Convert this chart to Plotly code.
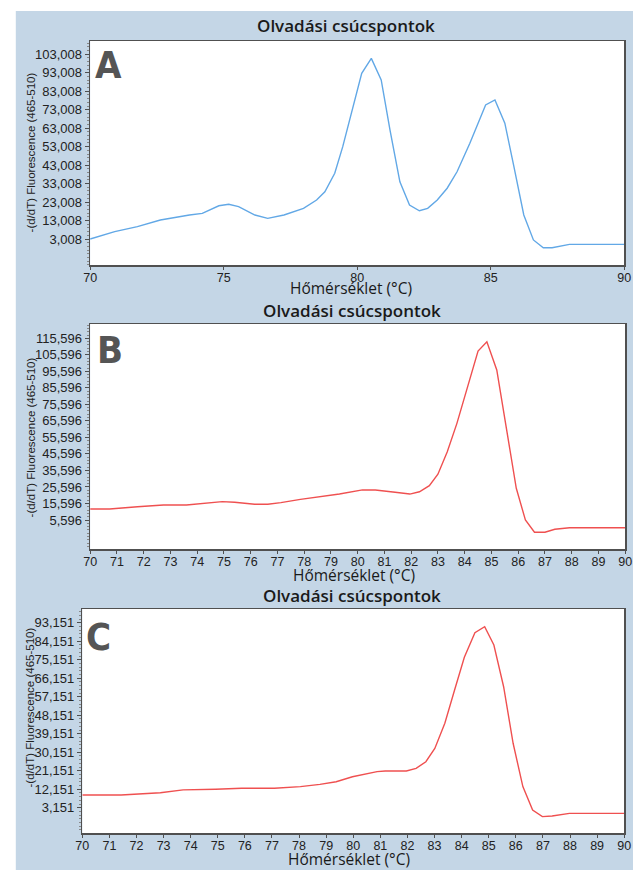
import plotly.graph_objects as go

# ---------------- data ----------------
temps_a = [70.0, 70.92, 71.77, 72.63, 73.72, 74.2, 74.82, 75.19, 75.56, 76.17, 76.65, 77.26,
           77.99, 78.48, 78.79, 79.16, 79.46, 79.83, 80.17, 80.53, 80.9, 81.23, 81.6, 81.96,
           82.33, 82.64, 83.0, 83.37, 83.74, 84.22, 84.81, 85.16, 85.53, 85.87, 86.24, 86.6,
           86.97, 87.3, 87.95, 90.0]
vals_a = [3000, 7000, 9700, 13300, 16000, 16900, 21000, 21800, 20500, 16000, 14200, 16000,
          19600, 24100, 28600, 38600, 53000, 72900, 92700, 100800, 89100, 62000, 34000, 21400,
          18300, 19600, 24100, 30500, 39400, 54800, 75600, 78300, 65700, 42200, 16000, 2500,
          -1700, -1700, 100, 100]

temps_b = [70.0, 70.73, 71.77, 72.74, 73.6, 74.2, 74.94, 75.4, 76.15, 76.64, 77.13, 77.86,
           78.59, 79.32, 80.18, 80.66, 81.4, 81.95, 82.31, 82.68, 83.0, 83.35, 83.71, 84.08,
           84.5, 84.83, 85.2, 85.56, 85.93, 86.27, 86.61, 87.0, 87.37, 87.92, 90.0]
vals_b = [12300, 12300, 13600, 14700, 14700, 15700, 16700, 16300, 15100, 15100, 16100, 18100,
          19700, 21300, 23800, 23800, 22400, 21300, 22700, 26400, 33300, 46900, 64100, 85300,
          107900, 113500, 96400, 61100, 24800, 5600, -1800, -1800, 0, 900, 900]

temps_c = [70.0, 71.43, 72.88, 73.72, 74.92, 75.88, 77.09, 78.05, 78.77, 79.37, 79.97, 80.88,
           81.18, 81.96, 82.32, 82.68, 83.01, 83.38, 83.74, 84.1, 84.49, 84.85, 85.19, 85.55,
           85.9, 86.26, 86.62, 86.98, 87.34, 87.98, 90.0]
vals_c = [9300, 9300, 10400, 11800, 12100, 12600, 12600, 13400, 14500, 15800, 18200, 20700,
          21000, 21000, 22300, 25500, 32000, 44200, 60400, 76300, 88300, 91200, 82300, 62000,
          34500, 13400, 2000, -1200, -900, 400, 400]

yticks_a = [3008 + 10000 * k for k in range(11)]
yticks_b = [5596 + 10000 * k for k in range(12)]
yticks_c = [3151 + 9000 * k for k in range(11)]

panel_letters = ["A", "B", "C"]
chart_title = "Olvadási csúcspontok"
x_title = "Hőmérséklet (°C)"
y_title = "-(d/dT) Fluorescence (465-510)"

# ---------------- layout helpers ----------------
W, H = 640, 870
BG = "#c4d6e6"
FRAME = "#505050"
BLUE = "#62a8e6"
RED = "#ef5050"
YTICKFONT = dict(family="Liberation Sans, Arial, sans-serif", size=13, color="#222")
XTICKFONT = dict(family="Liberation Sans, Arial, sans-serif", size=12.5, color="#222")
TITLEFONT = dict(family="Open Sans, Noto Sans, sans-serif", size=17, color="#1a1a1a", weight=600)
XTFONT = dict(family="Open Sans, Noto Sans, sans-serif", size=15.5, color="#1a1a1a", weight=500)
YTFONT = dict(family="Liberation Sans, Arial, sans-serif", size=11.5, color="#222")
LETTERFONT = dict(family="Liberation Sans Narrow, DejaVu Sans Condensed, Arial Narrow, sans-serif",
                  size=38, color="#555555", weight=700)


def px_x(p):
    return p / W


def px_y(p):
    return 1 - p / H


panels = [
    dict(x=temps_a, y=vals_a, color=BLUE, xd=(85, 631), yd=(41, 265),
         yr=(-11069, 110208), yt=yticks_a, mdt=2000, xdt=5,
         title=(347, 25), xt=(352, 288), ytp=(25, 152), letter=(104, 65)),
    dict(x=temps_b, y=vals_b, color=RED, xd=(85, 632), yd=(324, 549),
         yr=(-11960, 124253), yt=yticks_b, mdt=2000, xdt=1,
         title=(353, 310), xt=(355, 575), ytp=(25, 437), letter=(105, 350)),
    dict(x=temps_c, y=vals_c, color=RED, xd=(77, 631), yd=(609, 833),
         yr=(-9157, 99816), yt=yticks_c, mdt=1800, xdt=1,
         title=(353, 595), xt=(350, 859), ytp=(24, 707), letter=(94, 637)),
]

fig = go.Figure()
shapes = [dict(type="rect", xref="paper", yref="paper", x0=px_x(9), x1=1.0,
               y0=0.0, y1=px_y(11), fillcolor=BG, line=dict(width=0), layer="below")]
annotations = []
layout_axes = {}

for i, p in enumerate(panels):
    n = "" if i == 0 else str(i + 1)
    xa, ya = "x" + n, "y" + n
    fig.add_trace(go.Scatter(x=p["x"], y=p["y"], mode="lines", xaxis=xa, yaxis=ya,
                             line=dict(color=p["color"], width=1.4), showlegend=False,
                             hoverinfo="skip"))
    shapes.append(dict(type="rect", xref="paper", yref="paper",
                       x0=px_x(p["xd"][0]), x1=px_x(p["xd"][1]),
                       y0=px_y(p["yd"][1]), y1=px_y(p["yd"][0]),
                       fillcolor="white", line=dict(width=0), layer="below"))
    layout_axes["xaxis" + n] = dict(
        domain=[px_x(p["xd"][0]), px_x(p["xd"][1])], anchor=ya, range=[70, 90],
        tick0=70, dtick=p["xdt"], ticks="outside", ticklen=3, tickcolor=FRAME,
        ticklabelstandoff=-3,
        showline=True, linecolor=FRAME, linewidth=1.5, mirror=True, showgrid=False,
        zeroline=False, tickfont=XTICKFONT, fixedrange=True)
    layout_axes["yaxis" + n] = dict(
        domain=[px_y(p["yd"][1]), px_y(p["yd"][0])], anchor=xa, range=list(p["yr"]),
        tickvals=p["yt"], tickformat=",", ticks="outside", ticklen=4, tickcolor=FRAME,
        minor=dict(ticks="outside", ticklen=2, tickcolor="#888", tick0=p["yt"][0],
                   dtick=p["mdt"]),
        showline=True, linecolor=FRAME, linewidth=1.5, mirror=True, showgrid=False,
        zeroline=False, tickfont=YTICKFONT, fixedrange=True)
    annotations += [
        dict(text=chart_title, x=px_x(p["title"][0]), y=px_y(p["title"][1]),
             xref="paper", yref="paper", showarrow=False, xanchor="center",
             yanchor="middle", font=TITLEFONT),
        dict(text=x_title, x=px_x(p["xt"][0]), y=px_y(p["xt"][1]),
             xref="paper", yref="paper", showarrow=False, xanchor="center",
             yanchor="middle", font=XTFONT),
        dict(text=y_title, x=px_x(p["ytp"][0]), y=px_y(p["ytp"][1]),
             xref="paper", yref="paper", showarrow=False, xanchor="center",
             yanchor="middle", textangle=-90, font=YTFONT),
        dict(text=panel_letters[i], x=px_x(p["letter"][0]), y=px_y(p["letter"][1]),
             xref="paper", yref="paper", showarrow=False, xanchor="center",
             yanchor="middle", font=LETTERFONT),
    ]

fig.update_layout(
    width=W, height=H, margin=dict(l=0, r=0, t=0, b=0),
    paper_bgcolor="white", plot_bgcolor="rgba(0,0,0,0)",
    shapes=shapes, annotations=annotations, **layout_axes)

fig.write_html(
    "out.html",
    config={"displayModeBar": False, "staticPlot": True},
    post_script="document.body.style.margin='0';document.body.style.overflow='hidden';")
